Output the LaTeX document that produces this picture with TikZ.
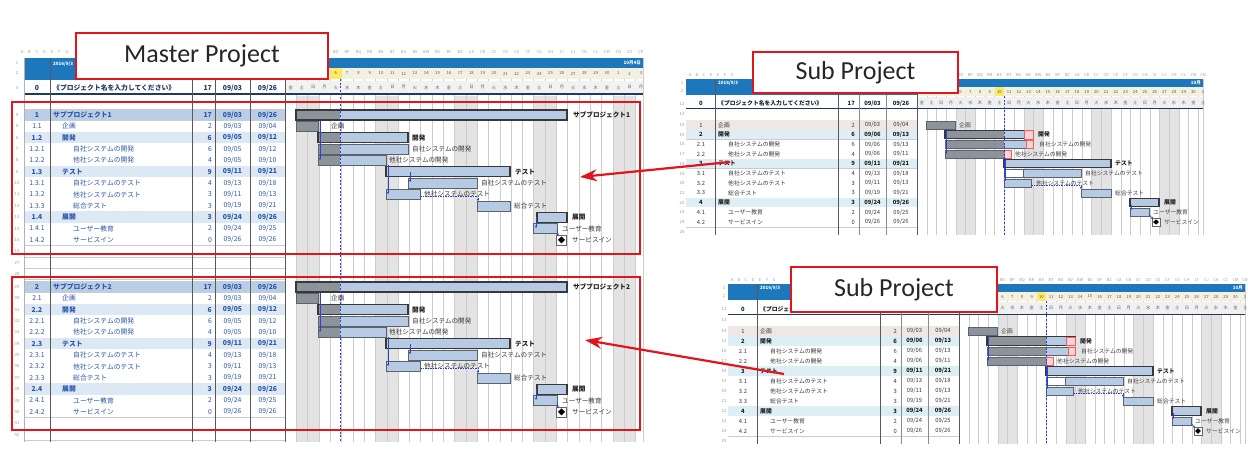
\documentclass[tikz,border=0pt]{standalone}
\usepackage{fontspec}
\setmainfont{Carlito}
\newfontfamily\jp{Noto Sans CJK JP}
\usetikzlibrary{arrows.meta}
\definecolor{hdrblue}{HTML}{1C77BD}
\definecolor{barblue}{HTML}{B7CAE3}
\definecolor{barline}{HTML}{59636E}
\definecolor{prog}{HTML}{8D939B}
\definecolor{sumrow}{HTML}{B9CDE5}
\definecolor{grprow}{HTML}{DCE9F5}
\definecolor{linkblue}{HTML}{2A56A8}
\definecolor{gridgray}{HTML}{CCCCCC}
\definecolor{wkend}{HTML}{E3E3E3}
\definecolor{redbox}{HTML}{E1161C}
\definecolor{daybg}{HTML}{F4F0E0}
\definecolor{pinkcell}{HTML}{F5D5DA}
\definecolor{kikakurow}{HTML}{EFE6E6}
\definecolor{cyanrow}{HTML}{DDEFF5}
\definecolor{depblue}{HTML}{3040D0}
\definecolor{hdrtxt}{HTML}{9C9C9C}
\definecolor{navy}{HTML}{1F3864}
\tikzset{
  tcm/.style={inner sep=0pt,text=linkblue,font=\jp\fontsize{6.8}{7}\selectfont},
  tcmb/.style={inner sep=0pt,text=linkblue,font=\jp\bfseries\fontsize{6.8}{7}\selectfont},
  tcs/.style={inner sep=0pt,text=black!78,font=\jp\fontsize{5.8}{6}\selectfont},
  tcsb/.style={inner sep=0pt,text=black!88,font=\jp\bfseries\fontsize{5.8}{6}\selectfont},
  rnum/.style={inner sep=0pt,text=hdrtxt,font=\jp\fontsize{4.3}{5}\selectfont},
  colltr/.style={inner sep=0pt,text=hdrtxt,font=\jp\fontsize{4}{5}\selectfont},
  daynum/.style={inner sep=0pt,text=black!65,font=\jp\fontsize{4.2}{5}\selectfont},
  hdrw/.style={inner sep=0pt,text=white,font=\jp\bfseries\fontsize{4.5}{5}\selectfont},
  taskbar/.style={draw=barline,line width=0.5pt},
  sumbar/.style={draw=black!78,line width=1.1pt},
  blm/.style={inner sep=0pt,anchor=west,text=black!78,font=\jp\fontsize{6.6}{7}\selectfont},
  blmb/.style={inner sep=0pt,anchor=west,text=black!88,font=\jp\bfseries\fontsize{6.6}{7}\selectfont},
  bls/.style={inner sep=0pt,anchor=west,text=black!75,font=\jp\fontsize{5.8}{6}\selectfont},
  blsb/.style={inner sep=0pt,anchor=west,text=black!88,font=\jp\bfseries\fontsize{5.8}{6}\selectfont},
  dep/.style={depblue,line width=0.6pt,-{Stealth[length=2.4pt,width=2.4pt]}},
  depd/.style={dep,dash pattern=on 1.5pt off 1pt},
  todayline/.style={depblue,line width=0.7pt,dash pattern=on 2pt off 1.6pt},
  tag/.style={draw=redbox,line width=1.6pt,fill=white,text=black!85,inner sep=0pt,font=\fontsize{26}{30}\selectfont},
  redframe/.style={draw=redbox,line width=2pt},
  redarrow/.style={draw=redbox,line width=2.2pt,-{Stealth[length=17pt,width=12pt]}},
  vline/.style={draw=black!65,line width=0.6pt},
  mstone/.style={draw=black!60,fill=white,line width=0.5pt,inner sep=0pt},
}
% bar: x1 x2 xprogress y style halfheight
\newcommand\gbar[6]{%
  \fill[barblue] (#1,{#4-#6}) rectangle (#2,{#4+#6});
  \fill[prog] (#1,{#4-#6}) rectangle (#3,{#4+#6});
  \draw[#5] (#1,{#4-#6}) rectangle (#2,{#4+#6});
}
\newcommand\pinkc[3]{\filldraw[fill=pinkcell,draw=red!65,line width=0.5pt] (#1,{#3-4.2}) rectangle (#2,{#3+4.2});}
% milestone: name x y size
\newcommand\msymb[4]{%
  \node[mstone,minimum size=#4] (#1) at (#2,#3) {};
  \fill[black] (#2,{#3-0.35*#4}) -- ({#2+0.35*#4},#3) -- (#2,{#3+0.35*#4}) -- ({#2-0.35*#4},#3) -- cycle;
}
% master table row
\newcommand\mrow[9]{%
  \fill[#8] (24,{11.35*#1-5.675}) rectangle (285,{11.35*#1+5.675});
  \draw[gridgray,line width=0.4pt] (24,{11.35*#1+5.675}) -- (285,{11.35*#1+5.675});
  \node[#9] (w#1) at (37,{11.35*#1}) {#2};
  \node[#9,anchor=west] (t#1) at ({53+#4},{11.35*#1}) {#3};
  \node[#9,anchor=east] (d#1) at (212,{11.35*#1}) {#5};
  \node[#9] (s#1) at (232.5,{11.35*#1}) {#6};
  \node[#9] (e#1) at (267.5,{11.35*#1}) {#7};
}
% sub table row
\newcommand\srow[9]{%
  \fill[#8] (8,{10*#1-5}) rectangle (239,{10*#1+5});
  \draw[gridgray,line width=0.35pt] (8,{10*#1+5}) -- (239,{10*#1+5});
  \node[#9] (w#1) at (23,{10*#1}) {#2};
  \node[#9,anchor=west] (t#1) at ({40+#4},{10*#1}) {#3};
  \node[#9,anchor=east] (d#1) at (177,{10*#1}) {#5};
  \node[#9] (s#1) at (194.5,{10*#1}) {#6};
  \node[#9] (e#1) at (223,{10*#1}) {#7};
}
\newcommand\masterblock[3]{%
\begin{scope}[shift={(0,#1)},name prefix=mb#2-]
\foreach \k in {0,...,11}{\pgfmathtruncatemacro\rn{#3+\k}\node[rnum] (n\k) at (17,{11.35*\k}) {\rn};}
\mrow{0}{#2}{サブプロジェクト#2}{0}{17}{09/03}{09/26}{sumrow}{tcmb}
\mrow{1}{#2.1}{企画}{9}{2}{09/03}{09/04}{white}{tcm}
\mrow{2}{#2.2}{開発}{9}{6}{09/05}{09/12}{grprow}{tcmb}
\mrow{3}{#2.2.1}{自社システムの開発}{20}{6}{09/05}{09/12}{white}{tcm}
\mrow{4}{#2.2.2}{他社システムの開発}{20}{4}{09/05}{09/10}{white}{tcm}
\mrow{5}{#2.3}{テスト}{9}{9}{09/11}{09/21}{grprow}{tcmb}
\mrow{6}{#2.3.1}{自社システムのテスト}{20}{4}{09/13}{09/18}{white}{tcm}
\mrow{7}{#2.3.2}{他社システムのテスト}{20}{3}{09/11}{09/13}{white}{tcm}
\mrow{8}{#2.3.3}{総合テスト}{20}{3}{09/19}{09/21}{white}{tcm}
\mrow{9}{#2.4}{展開}{9}{3}{09/24}{09/26}{grprow}{tcmb}
\mrow{10}{#2.4.1}{ユーザー教育}{20}{2}{09/24}{09/25}{white}{tcm}
\mrow{11}{#2.4.2}{サービスイン}{20}{0}{09/26}{09/26}{white}{tcm}
\gbar{296}{567}{340}{0}{sumbar}{5}
\gbar{296}{318}{318}{11.35}{taskbar}{5}
\gbar{318}{408}{340}{22.7}{sumbar}{5}
\gbar{318}{408}{340}{34.05}{taskbar}{5}
\gbar{318}{386}{340}{45.4}{taskbar}{5}
\gbar{386}{510}{386}{56.75}{sumbar}{5}
\gbar{408}{477}{408}{68.1}{taskbar}{5}
\gbar{386}{420}{386}{79.45}{taskbar}{5}
\gbar{477}{510}{477}{90.8}{taskbar}{5}
\gbar{537}{567}{537}{102.15}{sumbar}{5}
\gbar{533}{557}{533}{113.5}{taskbar}{5}
\msymb{ms}{561.5}{124.85}{10}
\node[blmb] (b0) at (573,0) {サブプロジェクト#2};
\node[blm] (b1) at (331,11.35) {企画};
\node[blmb] (b2) at (412,22.7) {開発};
\node[blm] (b3) at (412,34.05) {自社システムの開発};
\node[blm] (b4) at (389,45.4) {他社システムの開発};
\node[blmb] (b5) at (515,56.75) {テスト};
\node[blm] (b6) at (481,68.1) {自社システムのテスト};
\node[blm] (b7) at (424,79.45) {他社システムのテスト};
\node[blm] (b8) at (514,90.8) {総合テスト};
\node[blmb] (b9) at (572,102.15) {展開};
\node[blm] (b10) at (562,113.5) {ユーザー教育};
\node[blm] (b11) at (572,124.85) {サービスイン};
\coordinate (d1a) at (320,6); \coordinate (d1b) at (320,45);
\coordinate (d2a) at (388,50); \coordinate (d2b) at (388,79);
\coordinate (d3a) at (410,57); \coordinate (d3b) at (410,67);
\coordinate (d4a) at (420,81); \coordinate (d4m) at (478,81); \coordinate (d4b) at (478,86);
\coordinate (d5a) at (536,102); \coordinate (d5b) at (536,113);
\coordinate (d6a) at (557,115); \coordinate (d6b) at (558,121);
\draw[dep] (d1a) -- (d1b);
\draw[dep] (d2a) -- (d2b);
\draw[dep] (d3a) -- (d3b);
\draw[depd] (d4a) -- (d4m) -- (d4b);
\draw[dep] (d5a) -- (d5b);
\draw[dep] (d6a) -- (d6b);
\end{scope}}
\newcommand\subsheet{%
\foreach \i in {4,5,11,12,18,19,25,26}{\fill[wkend] ({239+9.7*\i},-16) rectangle ({239+9.7*(\i+1)},113);}
\foreach \i in {0,...,29}{\draw[gridgray,line width=0.35pt] ({239+9.7*\i},-39) -- ({239+9.7*\i},113);}
\draw[gridgray,line width=0.35pt] (525,-47) -- (525,113);
\fill[hdrblue] (8,-47) rectangle (525,-39);
\fill[hdrblue] (8,-39) rectangle (239,-31);
\fill[daybg] (239,-39) rectangle (525,-30);
\fill[yellow!80!orange!60] ({239+9.7*8},-39) rectangle ({239+9.7*9},-30);
\fill[black!6] (239,-29) rectangle (525,-17);
\node[hdrw,anchor=west] (hd1) at (40,-43) {2016/9/3};
\node[hdrw,anchor=east] (hd2) at (523,-43) {10月};
\foreach \i in {0,...,29}{%
  \pgfmathtruncatemacro\dn{\i+2>30 ? \i-28 : \i+2}%
  \pgfmathtruncatemacro\wi{mod(\i,7)}%
  \node[daynum] (dn\i) at ({239+9.7*\i+4.85},-34.5) {\dn};
  \node[daynum] (wd\i) at ({239+9.7*\i+4.85},-23) {\ifcase\wi 金\or 土\or 日\or 月\or 火\or 水\or 木\fi};
}
\foreach \c [count=\j from 0] in {A,B,C,D,E,F,G}{\node[colltr] (cl\j) at ({12+7*\j},-51) {\c};}
\foreach \c [count=\j from 0] in {BK,BL,BM,BN,BO,BP,BQ,BR,BS,BT,BU,BV,BW,BX,BY,BZ,CA,CB,CC,CD,CE,CF,CG,CH,CI,CJ,CK,CL,CM,CN}{\node[colltr] (cg\j) at ({239+9.7*\j+4.85},-51) {\c};}
\node[tcsb] (r0w) at (23,-22) {0};
\node[tcsb,anchor=west] (r0t) at (40,-22) {《プロジェクト名を入力してください》};
\node[tcsb,anchor=east] (r0d) at (177,-22) {17};
\node[tcsb] (r0s) at (194.5,-22) {09/03};
\node[tcsb] (r0e) at (223,-22) {09/26};
\draw[navy,line width=1pt] (8,-16.5) -- (525,-16.5);
\draw[gridgray,line width=0.35pt] (8,-5) -- (239,-5);
\srow{0}{1}{企画}{0}{2}{09/03}{09/04}{kikakurow}{tcs}
\srow{1}{2}{開発}{0}{6}{09/06}{09/13}{cyanrow}{tcsb}
\srow{2}{2.1}{自社システムの開発}{10}{6}{09/06}{09/13}{white}{tcs}
\srow{3}{2.2}{他社システムの開発}{10}{4}{09/06}{09/11}{white}{tcs}
\srow{4}{3}{テスト}{0}{9}{09/11}{09/21}{cyanrow}{tcsb}
\srow{5}{3.1}{自社システムのテスト}{10}{4}{09/13}{09/18}{white}{tcs}
\srow{6}{3.2}{他社システムのテスト}{10}{3}{09/11}{09/13}{white}{tcs}
\srow{7}{3.3}{総合テスト}{10}{3}{09/19}{09/21}{white}{tcs}
\srow{8}{4}{展開}{0}{3}{09/24}{09/26}{cyanrow}{tcsb}
\srow{9}{4.1}{ユーザー教育}{10}{2}{09/24}{09/25}{white}{tcs}
\srow{10}{4.2}{サービスイン}{10}{0}{09/26}{09/26}{white}{tcs}
\foreach \k in {0,...,10}{\pgfmathtruncatemacro\rn{14+\k}\node[rnum] (n\k) at (4,{10*\k}) {\rn};}
\node[rnum] (nh1) at (4,-43) {1};
\node[rnum] (nh2) at (4,-35) {2};
\node[rnum] (nh3) at (4,-22) {11};
\node[rnum] (nh4) at (4,-11) {13};
\node[rnum] (nh5) at (4,110) {25};
\foreach \x in {37,160,239}{\draw[vline] (\x,-47) -- (\x,113);}
\foreach \x in {181,208}{\draw[black!45,line width=.4pt] (\x,-31) -- (\x,113);}
\gbar{248}{277}{277}{0}{taskbar}{4.2}
\gbar{267}{355}{326}{10}{sumbar}{4.2}\pinkc{346}{355}{10}
\gbar{267}{355}{326}{20}{taskbar}{4.2}\pinkc{348}{355}{20}
\gbar{267}{333}{326}{30}{taskbar}{4.2}\pinkc{326}{333}{30}
\gbar{326}{433}{326}{40}{sumbar}{4.2}
\draw[barline,fill=white,line width=0.5pt] (326,45.8) rectangle (345,54.2);
\gbar{345}{403}{345}{50}{taskbar}{4.2}
\gbar{326}{353}{326}{60}{taskbar}{4.2}
\gbar{403}{433}{403}{70}{taskbar}{4.2}
\gbar{452}{481}{452}{80}{sumbar}{4.2}
\gbar{452}{471}{452}{90}{taskbar}{4.2}
\msymb{ms}{478}{100}{8}
\node[bls] (b0) at (281,0) {企画};
\node[blsb] (b1) at (360,10) {開発};
\node[bls] (b2) at (361,20) {自社システムの開発};
\node[bls] (b3) at (337,30) {他社システムの開発};
\node[blsb] (b4) at (437,40) {テスト};
\node[bls] (b5) at (407,50) {自社システムのテスト};
\node[bls] (b6) at (358,60) {他社システムのテスト};
\node[bls] (b7) at (437,70) {総合テスト};
\node[blsb] (b8) at (486,80) {展開};
\node[bls] (b9) at (475,90) {ユーザー教育};
\node[bls] (b10) at (486,100) {サービスイン};
\coordinate (d1a) at (268,4); \coordinate (d1b) at (268,30);
\coordinate (d2a) at (327,34); \coordinate (d2b) at (327,58);
\coordinate (d3a) at (353,62); \coordinate (d3m) at (403,62); \coordinate (d3b) at (403,66);
\coordinate (d4a) at (453,82); \coordinate (d4b) at (453,88);
\coordinate (d5a) at (471,92); \coordinate (d5b) at (475,97);
\draw[dep] (d1a) -- (d1b);
\draw[dep] (d2a) -- (d2b);
\draw[depd] (d3a) -- (d3m) -- (d3b);
\draw[dep] (d4a) -- (d4b);
\draw[dep] (d5a) -- (d5b);
\draw[todayline] (326,-30) -- (326,113);
}
\begin{document}
\begin{tikzpicture}[x=1pt,y=-1pt]
\useasboundingbox (0,0) rectangle (1248,463);
\fill[white] (0,0) rectangle (1248,463);
% ===== master sheet =====
\foreach \i in {1,2,8,9,15,16,22,23,29,30}{\fill[wkend] ({285+11.3*\i},96) rectangle ({285+11.3*(\i+1)},442);}
\foreach \i in {0,...,31}{\draw[gridgray,line width=0.35pt] ({285+11.3*\i},68) -- ({285+11.3*\i},442);}
\draw[gridgray,line width=0.35pt] (643,58) -- (643,442);
\fill[hdrblue] (24,58) rectangle (643,68);
\fill[hdrblue] (24,68) rectangle (285,80);
\fill[daybg] (285,68) rectangle (643,79);
\fill[yellow!80!orange!60] ({285+11.3*4},68) rectangle ({285+11.3*5},79);
\fill[black!5] (285,81) rectangle (643,93);
\node[hdrw,anchor=west] (mhd1) at (53,64) {2016/9/3};
\node[hdrw,anchor=east] (mhd2) at (641,63) {10月4日};
\foreach \i in {0,...,31}{%
  \pgfmathtruncatemacro\dn{\i+2>30 ? \i-28 : \i+2}%
  \pgfmathtruncatemacro\wi{mod(\i,7)}%
  \node[daynum] (mdn\i) at ({285+11.3*\i+5.65},73.5) {\dn};
  \node[daynum] (mwd\i) at ({285+11.3*\i+5.65},87.5) {\ifcase\wi 金\or 土\or 日\or 月\or 火\or 水\or 木\fi};
}
\foreach \c [count=\j from 0] in {A,B,C,D,E,F,G}{\node[colltr] (mcl\j) at ({22+7.5*\j},52) {\c};}
\foreach \c [count=\j from 0] in {BK,BL,BM,BN,BO,BP,BQ,BR,BS,BT,BU,BV,BW,BX,BY,BZ,CA,CB,CC,CD,CE,CF,CG,CH,CI,CJ,CK,CL,CM,CN,CO,CP}{\node[colltr] (mcg\j) at ({285+11.3*\j+5.65},52) {\c};}
\node[rnum] (mh1) at (17,63) {1};
\node[rnum] (mh2) at (17,73) {2};
\node[rnum] (mh3) at (17,88) {3};
\node[tcmb,text=navy] (m0w) at (37,88) {0};
\node[tcmb,text=navy,anchor=west] (m0t) at (53,88) {《プロジェクト名を入力してください》};
\node[tcmb,text=navy,anchor=east] (m0d) at (212,88) {17};
\node[tcmb,text=navy] (m0s) at (232.5,88) {09/03};
\node[tcmb,text=navy] (m0e) at (267.5,88) {09/26};
\draw[navy,line width=1.2pt] (24,94) -- (643,94);
\masterblock{115}{1}{4}
\masterblock{287}{2}{29}
\foreach \y/\r in {251.2/16,262.5/27,273.9/28,423.2/41,434.6/42}{%
  \node[rnum] (mr\r) at (17,\y) {\r};
  \draw[gridgray,line width=0.4pt] (24,\y+5.675) -- (285,\y+5.675);}
\draw[gridgray,line width=0.4pt] (24,109.3) -- (285,109.3);
\draw[gridgray,line width=0.4pt] (24,281.3) -- (285,281.3);
\draw[black!30,line width=0.4pt] (24,58) -- (24,442);
\foreach \x in {50,192,215,250,285}{\draw[vline] (\x,58) -- (\x,442);}
\draw[todayline] (340,79) -- (340,442);
\draw[redframe] (12,102) rectangle (640,254);
\draw[redframe] (12,277) rectangle (640,430);
% ===== sub sheets =====
\begin{scope}[shift={(678,125)},yscale=0.97,name prefix=s1-]
\subsheet
\end{scope}
\begin{scope}[shift={(720,331)},name prefix=s2-]
\subsheet
\end{scope}
% ===== tags =====
\node[tag,minimum width=252,minimum height=46] (tagM) at (202,56) {Master Project};
\node[tag,minimum width=205,minimum height=41] (tagS1) at (855.5,72.5) {Sub Project};
\node[tag,minimum width=206,minimum height=45] (tagS2) at (894,289.5) {Sub Project};
% ===== arrows =====
\coordinate (a1s) at (730,162);
\coordinate (a1e) at (580,177);
\coordinate (a2s) at (784,374);
\coordinate (a2e) at (585,340);
\draw[redarrow] (a1s) -- (a1e);
\draw[redarrow] (a2s) -- (a2e);
\end{tikzpicture}
\end{document}
